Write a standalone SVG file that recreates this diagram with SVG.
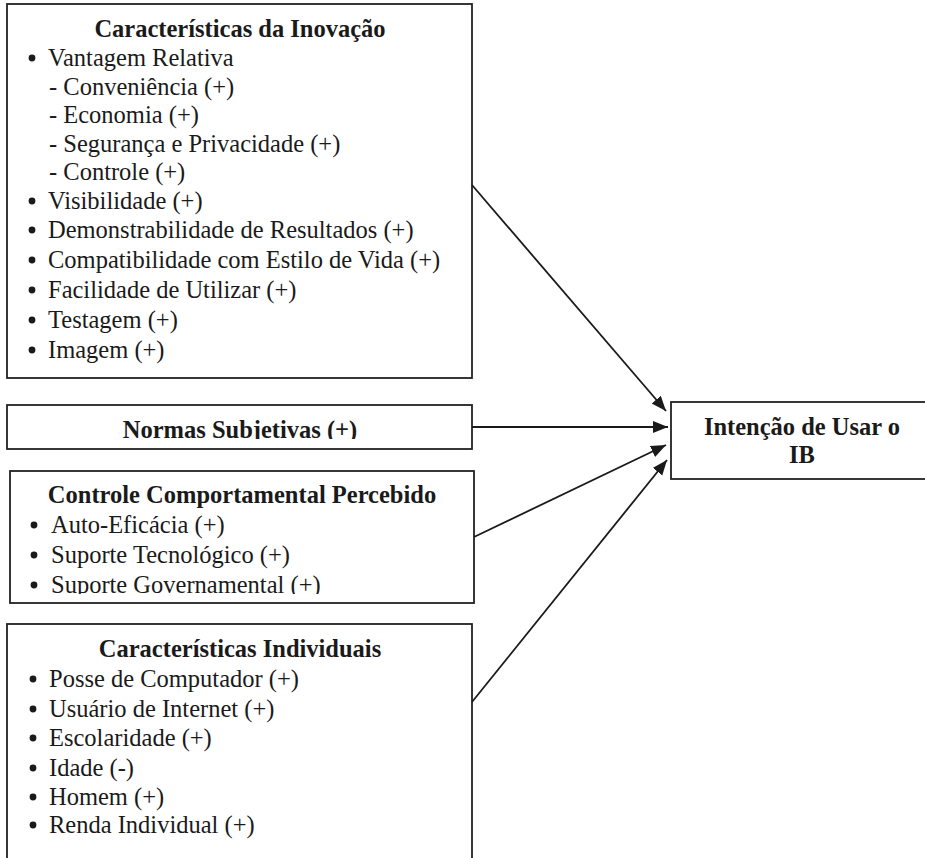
<svg xmlns="http://www.w3.org/2000/svg" width="925" height="858" viewBox="0 0 925 858">
<style>
.box{fill:#fff;stroke:#222;stroke-width:1.8}
text{font-family:"Liberation Serif","Times New Roman",serif;font-size:24.5px;fill:#1a1a1a}
.t{font-weight:bold;text-anchor:middle}
.b{fill:#1a1a1a}
.c{stroke:#1a1a1a;stroke-width:1.8;fill:none;marker-end:url(#ah)}
</style>
<defs>
<marker id="ah" markerUnits="userSpaceOnUse" markerWidth="16" markerHeight="13" refX="15" refY="6" orient="auto">
<path d="M0,0 L15,6 L0,12 z" fill="#1a1a1a"/>
</marker>
<clipPath id="clipN"><rect x="7" y="405" width="465" height="34"/></clipPath>
<clipPath id="clipC"><rect x="10" y="471" width="464" height="123"/></clipPath>
</defs>
<rect width="925" height="858" fill="#fff"/>
<g id="inovacao">
<rect class="box" x="7" y="4" width="465" height="374"/>
<text class="t" x="240" y="37">Características da Inovação</text>
<circle class="b" cx="32" cy="58" r="3.4"/><text x="48" y="66">Vantagem Relativa</text>
<text x="49" y="95">- Conveniência (+)</text>
<text x="49" y="123">- Economia (+)</text>
<text x="49" y="152">- Segurança e Privacidade (+)</text>
<text x="49" y="180">- Controle (+)</text>
<circle class="b" cx="32" cy="201" r="3.4"/><text x="48" y="209">Visibilidade (+)</text>
<circle class="b" cx="32" cy="230" r="3.4"/><text x="48" y="238">Demonstrabilidade de Resultados (+)</text>
<circle class="b" cx="32" cy="260" r="3.4"/><text x="48" y="268">Compatibilidade com Estilo de Vida (+)</text>
<circle class="b" cx="32" cy="290" r="3.4"/><text x="48" y="298">Facilidade de Utilizar (+)</text>
<circle class="b" cx="32" cy="320" r="3.4"/><text x="48" y="328">Testagem (+)</text>
<circle class="b" cx="32" cy="350" r="3.4"/><text x="48" y="358">Imagem (+)</text>
</g>
<g id="normas">
<rect class="box" x="7" y="405" width="465" height="44"/>
<g clip-path="url(#clipN)"><text class="t" x="240" y="438">Normas Subjetivas (+)</text></g>
</g>
<g id="controle">
<rect class="box" x="10" y="471" width="464" height="132"/>
<g clip-path="url(#clipC)">
<text class="t" x="242" y="503">Controle Comportamental Percebido</text>
<circle class="b" cx="34" cy="525" r="3.4"/><text x="51" y="533">Auto-Eficácia (+)</text>
<circle class="b" cx="34" cy="555" r="3.4"/><text x="51" y="563">Suporte Tecnológico (+)</text>
<circle class="b" cx="34" cy="585" r="3.4"/><text x="51" y="593">Suporte Governamental (+)</text>
</g>
</g>
<g id="individuais">
<rect class="box" x="7" y="624" width="465" height="260"/>
<text class="t" x="240" y="657">Características Individuais</text>
<circle class="b" cx="33" cy="679" r="3.4"/><text x="49" y="687">Posse de Computador (+)</text>
<circle class="b" cx="33" cy="709" r="3.4"/><text x="49" y="717">Usuário de Internet (+)</text>
<circle class="b" cx="33" cy="738" r="3.4"/><text x="49" y="746">Escolaridade (+)</text>
<circle class="b" cx="33" cy="768" r="3.4"/><text x="49" y="776">Idade (-)</text>
<circle class="b" cx="33" cy="797" r="3.4"/><text x="49" y="805">Homem (+)</text>
<circle class="b" cx="33" cy="825" r="3.4"/><text x="49" y="833">Renda Individual (+)</text>
</g>
<g id="intencao">
<rect class="box" x="671" y="402" width="270" height="77"/>
<text class="t" x="802" y="435">Intenção de Usar o</text>
<text class="t" x="802" y="463">IB</text>
</g>
<g id="connectors">
<line class="c" x1="472" y1="185" x2="666" y2="411"/>
<line class="c" x1="472" y1="427" x2="668" y2="427"/>
<line class="c" x1="474" y1="537" x2="666" y2="445"/>
<line class="c" x1="472" y1="702" x2="667" y2="460"/>
</g>
</svg>
